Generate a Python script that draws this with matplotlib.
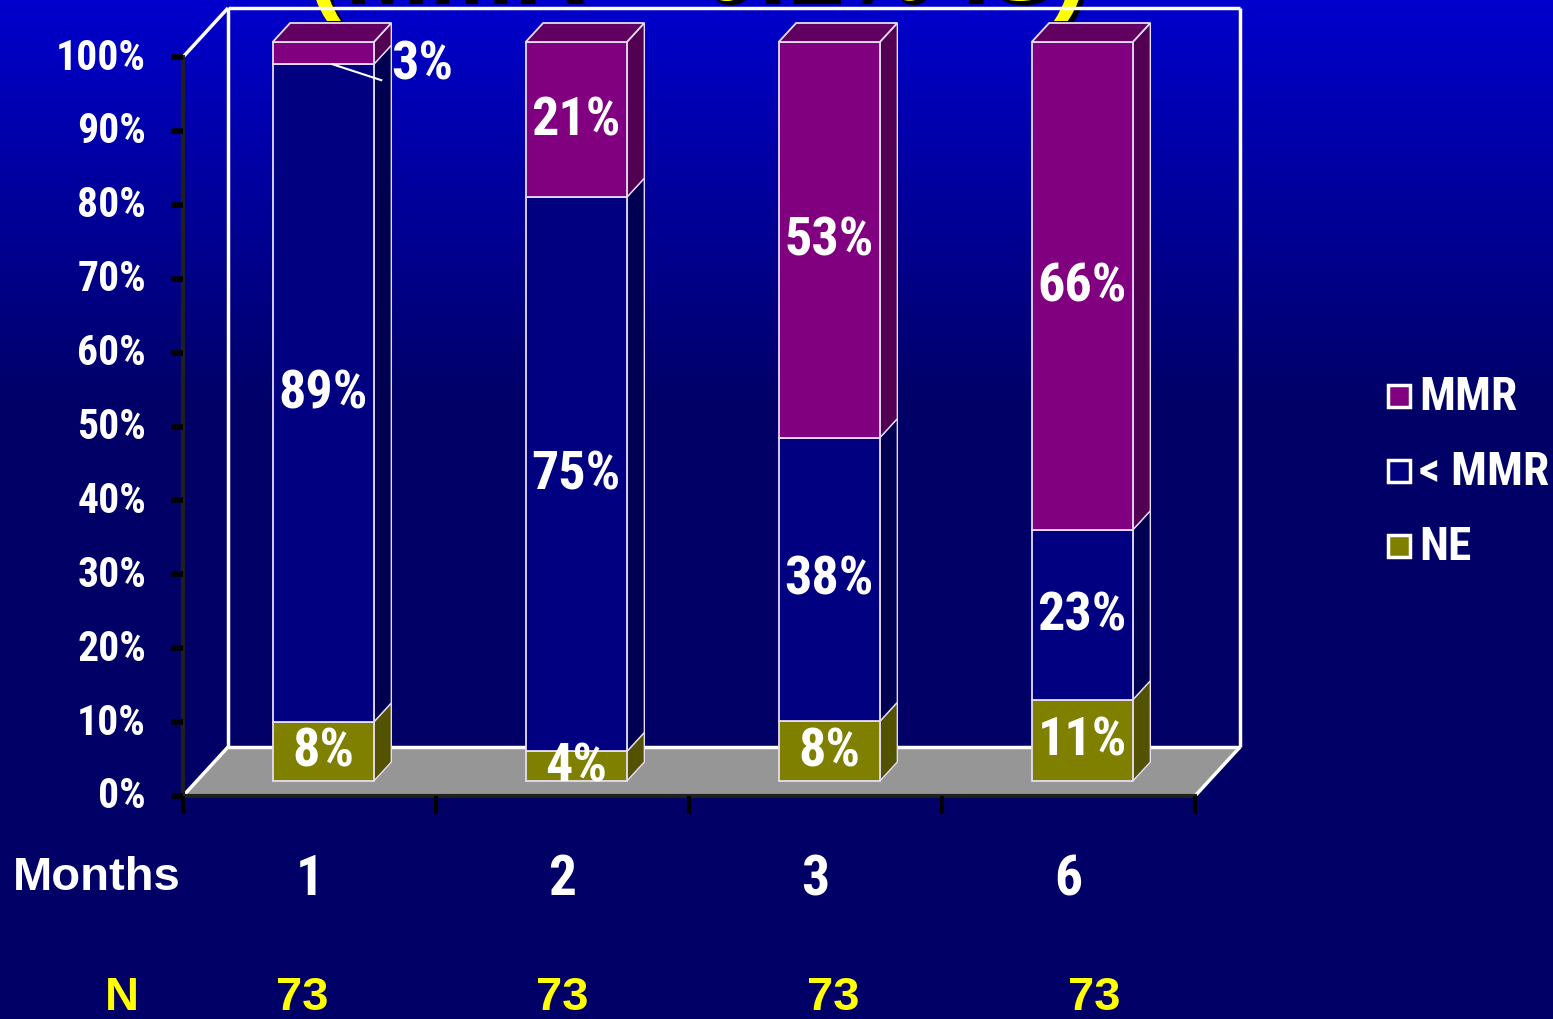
import numpy as np
import matplotlib
matplotlib.use("Agg")
import matplotlib.pyplot as plt
from matplotlib.patches import Polygon, Rectangle
import matplotlib.patheffects as pe

### data
months = ["1", "2", "3", "6"]
n_patients = [73, 73, 73, 73]
series = ["NE", "< MMR", "MMR"]
ne = [8, 4, 8, 11]
below_mmr = [89, 75, 38, 23]
mmr = [3, 21, 53, 66]
y_ticks = list(range(0, 101, 10))
legend_order = ["MMR", "< MMR", "NE"]

### colours (front, side, top)
front_cols = {"MMR": "#800080", "< MMR": "#000080", "NE": "#808000"}
side_cols = {"MMR": "#520052", "< MMR": "#000052", "NE": "#525200"}
top_cols = {"MMR": "#620062", "< MMR": "#000062", "NE": "#626200"}
edge_col = "#e6dcf5"

# narrow bold face like Arial Narrow, first installed one is used
narrow = ["Arial Narrow", "Liberation Sans Narrow", "Roboto Condensed", "Archivo Narrow",
          "PT Sans Narrow", "Open Sans Condensed", "Liberation Sans"]

W, H = 1553, 1020
fig = plt.figure(figsize=(W / 100, H / 100), dpi=100)

### background gradient (bright blue at top -> navy)
bg = fig.add_axes([0, 0, 1, 1], zorder=0)
bg.axis("off")
rows = np.arange(H) / H
blue = np.clip(205 - (205 - 102) * rows / 0.40, 102, 205) / 255
img = np.zeros((H, 1, 3))
img[:, 0, 2] = blue
bg.imshow(img, aspect="auto", extent=[0, 1, 0, 1])
bg.set_xlim(0, 1)
bg.set_ylim(0, 1)

# title, mostly cut off at the top of the slide
bg.text(697 / W, 1 - 1 / H, "(MMR < 0.1% IS)", ha="center", va="baseline",
        fontsize=73, fontweight="bold", color="#ffff00", family="Liberation Sans",
        path_effects=[pe.SimplePatchShadow(offset=(3, -3), shadow_rgbFace="black", alpha=1.0),
                      pe.Normal()])

### main axes, data units: x = category slot, y = percent
ax = fig.add_axes([0, 0, 1, 1], zorder=1)
ax.patch.set_visible(False)
ax.axis("off")
px_pct = (797 - 58) / 100.0
slot = 253.0
x0, y0 = 183, 797
ax.set_xlim(-x0 / slot, (W - x0) / slot)
ax.set_ylim(-(H - y0) / px_pct, y0 / px_pct)

DX = 45 / slot
DY = 49 / px_pct


def proj(x, v, z):
    return (x + z * DX, v + z * DY)


nx = len(months)

# floor
floor = Polygon([proj(0, 0, 0), proj(nx, 0, 0), proj(nx, 0, 1), proj(0, 0, 1)],
                closed=True, fc="#969696", ec="none")
ax.add_patch(floor)
for a, b in [((0, 0, 0), (0, 0, 1)), ((0, 0, 1), (nx, 0, 1)), ((nx, 0, 1), (nx, 0, 0)),
             ((0, 0, 1), (0, 100, 1)), ((0, 100, 1), (nx, 100, 1)), ((nx, 100, 1), (nx, 0, 1)),
             ((0, 100, 0), (0, 100, 1))]:
    pa, pb = proj(*a), proj(*b)
    ax.plot([pa[0], pb[0]], [pa[1], pb[1]], color="white", lw=2.5, solid_capstyle="butt")

# axes lines and ticks
ax.plot([0, 0], [0, 100], color="#202020", lw=3)
ax.plot([0, nx], [0, 0], color="#202020", lw=3)
for t in y_ticks:
    ax.plot([-12 / slot, 0], [t, t], color="black", lw=4, solid_capstyle="butt")
    ax.text(-37 / slot, t, "%d%%" % t, ha="right", va="center", fontsize=30,
            fontweight="bold", color="white", family=narrow)
for i in range(nx + 1):
    ax.plot([i, i], [0, -18 / px_pct], color="black", lw=3, solid_capstyle="butt")

### bars
bw = 0.40
zf, zb = 0.306, 0.694
lab_font = dict(fontsize=39, fontweight="bold", color="white", family=narrow)
for i in range(nx):
    vals = [ne[i], below_mmr[i], mmr[i]]
    tot = float(sum(vals))
    xl = i + 0.5 - bw / 2
    xr = xl + bw
    bottom = 0.0
    for k, (name, v) in enumerate(zip(series, vals)):
        h = v / tot * 100
        top = bottom + h
        side = Polygon([proj(xr, bottom, zf), proj(xr, bottom, zb), proj(xr, top, zb), proj(xr, top, zf)],
                       closed=True, fc=side_cols[name], ec=edge_col, lw=1.0, zorder=3)
        front = Polygon([proj(xl, bottom, zf), proj(xr, bottom, zf), proj(xr, top, zf), proj(xl, top, zf)],
                        closed=True, fc=front_cols[name], ec=edge_col, lw=1.3, zorder=4)
        ax.add_patch(side)
        ax.add_patch(front)
        if k == len(vals) - 1:
            topf = Polygon([proj(xl, top, zf), proj(xr, top, zf), proj(xr, top, zb), proj(xl, top, zb)],
                           closed=True, fc=top_cols[name], ec=edge_col, lw=1.3, zorder=4)
            ax.add_patch(topf)
        cx, cy = proj(i + 0.5, (bottom + top) / 2, zf)
        if h < 3.5:
            # tiny segment: label outside with a leader line
            sx, sy = proj(i + 0.5 + 9 / slot, bottom, zf)
            ax.plot([sx, sx + 49 / slot], [sy, sy - 16 / px_pct], color="white", lw=1.5, zorder=5)
            ax.text(sx + 90 / slot, sy, "%d%%" % v, ha="center", va="center", zorder=6, **lab_font)
        else:
            ax.text(cx, cy, "%d%%" % v, ha="center", va="center", zorder=6, **lab_font)
        bottom = top

### category labels and N row
ax.text(13 / slot - x0 / slot, (y0 - 878) / px_pct, "Months", ha="left", va="center",
        fontsize=34, fontweight="bold", color="white", family="Liberation Sans")
for i, m in enumerate(months):
    ax.text(i + 0.5, (y0 - 880) / px_pct, m, ha="center", va="center", fontsize=40,
            fontweight="bold", color="white", family=narrow)
n_x = [0.47, 1.50, 2.57, 3.60]
ax.text((122 - x0) / slot, (y0 - 998) / px_pct, "N", ha="center", va="center",
        fontsize=34, fontweight="bold", color="#ffff00", family="Liberation Sans")
for xx, n in zip(n_x, n_patients):
    ax.text(xx, (y0 - 998) / px_pct, str(n), ha="center", va="center", fontsize=34,
            fontweight="bold", color="#ffff00", family="Liberation Sans")

### legend
for j, name in enumerate(legend_order):
    yc = 397 + 75 * j
    fig.patches.append(Rectangle((1388 / W, 1 - (yc + 11) / H), 22 / W, 22 / H,
                                 transform=fig.transFigure, fc=front_cols[name],
                                 ec="white", lw=2.5, zorder=5))
    fig.text(1419 / W, 1 - yc / H, name, ha="left", va="center", fontsize=34,
             fontweight="bold", color="white", family=narrow)

fig.savefig("out.png", dpi=100)
